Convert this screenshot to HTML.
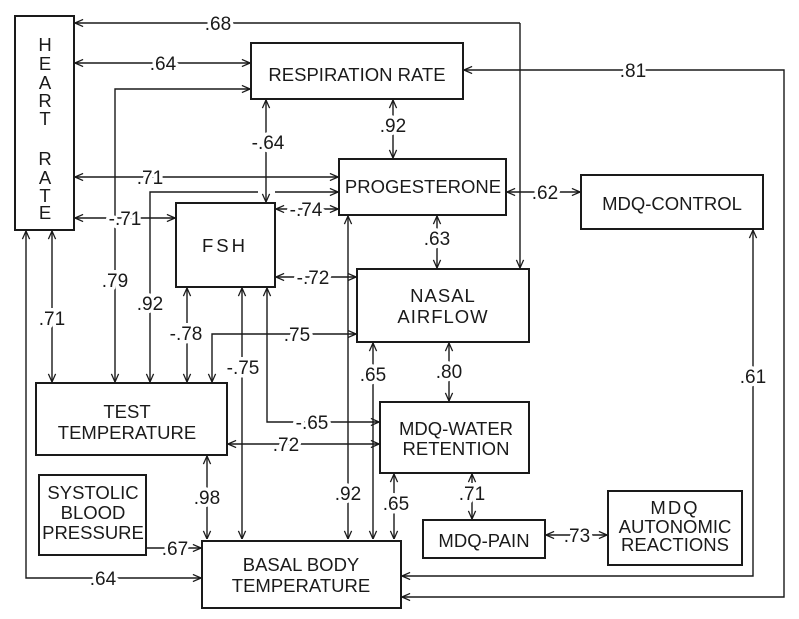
<!DOCTYPE html>
<html><head><meta charset="utf-8"><style>
html,body{margin:0;padding:0;background:#fff;}
svg{display:block;}
text{font-family:"Liberation Sans",sans-serif;fill:#1a1a1a;}
.l{font-size:19px;text-anchor:middle;paint-order:stroke;stroke:#fff;stroke-width:7px;stroke-linejoin:round;}
.b{font-size:18.5px;text-anchor:middle;}
.box{fill:#fff;stroke:#1a1a1a;stroke-width:2;}
.c{fill:none;stroke:#1a1a1a;stroke-width:1.4;}
</style></head><body>
<svg width="799" height="619" viewBox="0 0 799 619" xmlns="http://www.w3.org/2000/svg">
<defs>
<marker id="a" viewBox="0 0 10 10" refX="10" refY="5" markerWidth="9" markerHeight="9" markerUnits="userSpaceOnUse" orient="auto-start-reverse">
<path d="M1,1 L10,5 L1,9" fill="none" stroke="#1a1a1a" stroke-width="1.4"/>
</marker>
</defs>
<g class="c">
<path d="M520,23 H75" marker-end="url(#a)"/>
<path d="M520,23 V268" marker-end="url(#a)"/>
<path d="M75,63 H250" marker-start="url(#a)" marker-end="url(#a)"/>
<path d="M115,382 V89 H250" marker-start="url(#a)" marker-end="url(#a)"/>
<path d="M75,177 H338" marker-start="url(#a)" marker-end="url(#a)"/>
<path d="M150,382 V192 H258 M275,192 H338" marker-start="url(#a)" marker-end="url(#a)"/>
<path d="M75,218 H175" marker-start="url(#a)" marker-end="url(#a)"/>
<path d="M266,100 V202" marker-start="url(#a)" marker-end="url(#a)"/>
<path d="M393,100 V158" marker-start="url(#a)" marker-end="url(#a)"/>
<path d="M276,209 H338" marker-start="url(#a)" marker-end="url(#a)"/>
<path d="M276,277 H356" marker-start="url(#a)" marker-end="url(#a)"/>
<path d="M348,216 V539" marker-start="url(#a)" marker-end="url(#a)"/>
<path d="M507,192 H580" marker-start="url(#a)" marker-end="url(#a)"/>
<path d="M437,216 V268" marker-start="url(#a)" marker-end="url(#a)"/>
<path d="M464,70 H784 V597 H402" marker-start="url(#a)" marker-end="url(#a)"/>
<path d="M52,231 V382" marker-start="url(#a)" marker-end="url(#a)"/>
<path d="M26,231 V578 H201" marker-start="url(#a)" marker-end="url(#a)"/>
<path d="M187,288 V382" marker-start="url(#a)" marker-end="url(#a)"/>
<path d="M212,382 V334 H356" marker-start="url(#a)" marker-end="url(#a)"/>
<path d="M242,288 V539" marker-start="url(#a)" marker-end="url(#a)"/>
<path d="M267,288 V422 H379" marker-start="url(#a)" marker-end="url(#a)"/>
<path d="M228,444 H379" marker-start="url(#a)" marker-end="url(#a)"/>
<path d="M207,456 V539" marker-start="url(#a)" marker-end="url(#a)"/>
<path d="M147,548 H201" marker-end="url(#a)"/>
<path d="M373,343 V539" marker-start="url(#a)" marker-end="url(#a)"/>
<path d="M394,474 V539" marker-start="url(#a)" marker-end="url(#a)"/>
<path d="M449,343 V401" marker-start="url(#a)" marker-end="url(#a)"/>
<path d="M472,474 V519" marker-start="url(#a)" marker-end="url(#a)"/>
<path d="M546,535 H607" marker-start="url(#a)" marker-end="url(#a)"/>
<path d="M753,230 V576 H402" marker-start="url(#a)" marker-end="url(#a)"/>
</g>
<rect class="box" x="15" y="16" width="59" height="214"/>
<rect class="box" x="251" y="43" width="212" height="56"/>
<rect class="box" x="339" y="159" width="167" height="56"/>
<rect class="box" x="581" y="175" width="182" height="54"/>
<rect class="box" x="176" y="203" width="99" height="84"/>
<rect class="box" x="357" y="269" width="172" height="73"/>
<rect class="box" x="36" y="383" width="191" height="72"/>
<rect class="box" x="380" y="402" width="149" height="71"/>
<rect class="box" x="39" y="475" width="107" height="80"/>
<rect class="box" x="202" y="541" width="199" height="67"/>
<rect class="box" x="423" y="520" width="122" height="38"/>
<rect class="box" x="608" y="491" width="134" height="74"/>
<g class="b">
<text x="45" y="51">H</text><text x="45" y="70">E</text><text x="45" y="89">A</text><text x="45" y="107">R</text><text x="45" y="125">T</text>
<text x="45" y="165">R</text><text x="45" y="184">A</text><text x="45" y="202">T</text><text x="45" y="219">E</text>
<text x="357" y="81">RESPIRATION  RATE</text>
<text x="423" y="193">PROGESTERONE</text>
<text x="672" y="210">MDQ-CONTROL</text>
<text x="225" y="252" letter-spacing="3">FSH</text>
<text x="443" y="302" letter-spacing="1">NASAL</text>
<text x="443" y="323" letter-spacing="1">AIRFLOW</text>
<text x="127" y="418">TEST</text>
<text x="127" y="439">TEMPERATURE</text>
<text x="456" y="435">MDQ-WATER</text>
<text x="456" y="455">RETENTION</text>
<text x="93" y="499">SYSTOLIC</text>
<text x="93" y="519">BLOOD</text>
<text x="93" y="539">PRESSURE</text>
<text x="301" y="571">BASAL  BODY</text>
<text x="301" y="592">TEMPERATURE</text>
<text x="484" y="547">MDQ-PAIN</text>
<text x="675" y="514" letter-spacing="2">MDQ</text>
<text x="675" y="533">AUTONOMIC</text>
<text x="675" y="551">REACTIONS</text>
</g>
<g class="l">
<text x="218" y="30">.68</text>
<text x="163" y="70">.64</text>
<text x="268" y="149">-.64</text>
<text x="393" y="132">.92</text>
<text x="150" y="184">.71</text>
<text x="125" y="225">-.71</text>
<text x="306" y="216">-.74</text>
<text x="313" y="284">-.72</text>
<text x="633" y="77">.81</text>
<text x="545" y="199">.62</text>
<text x="437" y="245">.63</text>
<text x="115" y="287">.79</text>
<text x="150" y="310">.92</text>
<text x="52" y="325">.71</text>
<text x="186" y="340">-.78</text>
<text x="297" y="341">.75</text>
<text x="243" y="374">-.75</text>
<text x="373" y="381">.65</text>
<text x="449" y="378">.80</text>
<text x="312" y="429">-.65</text>
<text x="286" y="451">.72</text>
<text x="207" y="504">.98</text>
<text x="348" y="500">.92</text>
<text x="396" y="510">.65</text>
<text x="472" y="500">.71</text>
<text x="577" y="542">.73</text>
<text x="753" y="383">.61</text>
<text x="175" y="555">.67</text>
<text x="103" y="585">.64</text>
</g>
</svg>
</body></html>
